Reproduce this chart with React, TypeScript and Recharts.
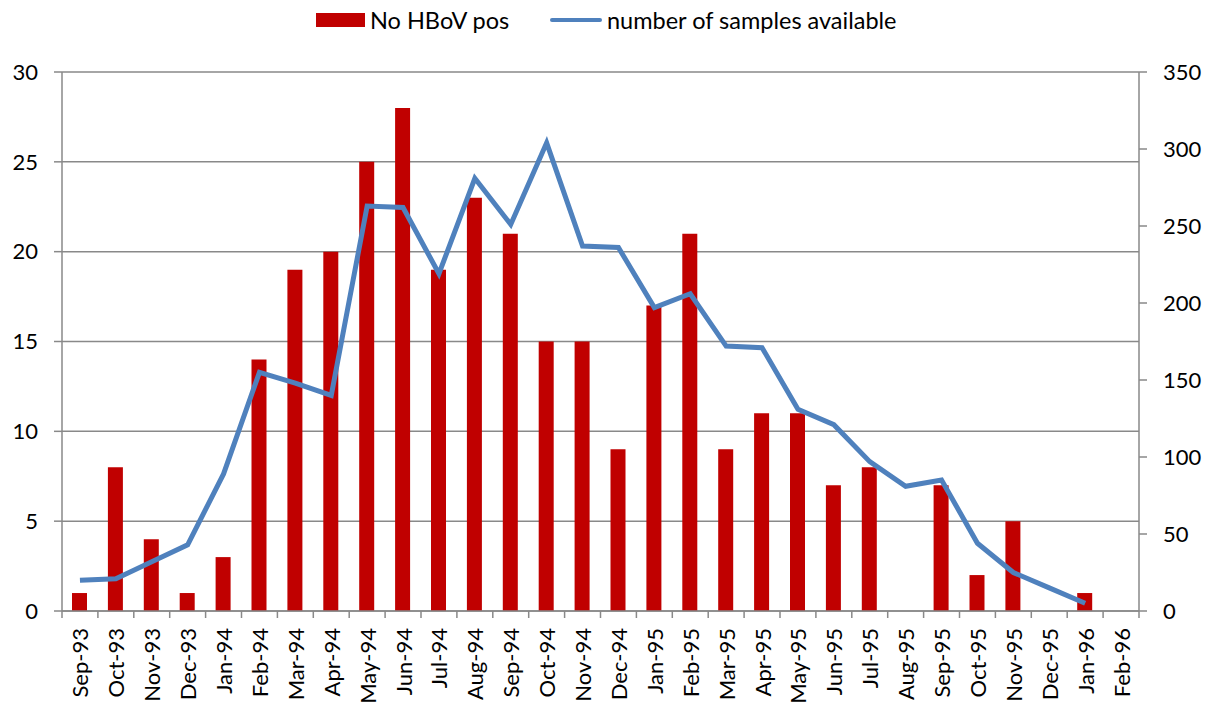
import React from 'react';
import { ComposedChart, Bar, Line, XAxis, YAxis, CartesianGrid } from 'recharts';

const months = [
  'Sep-93', 'Oct-93', 'Nov-93', 'Dec-93', 'Jan-94', 'Feb-94', 'Mar-94', 'Apr-94', 'May-94', 'Jun-94',
  'Jul-94', 'Aug-94', 'Sep-94', 'Oct-94', 'Nov-94', 'Dec-94', 'Jan-95', 'Feb-95', 'Mar-95', 'Apr-95',
  'May-95', 'Jun-95', 'Jul-95', 'Aug-95', 'Sep-95', 'Oct-95', 'Nov-95', 'Dec-95', 'Jan-96', 'Feb-96'
];

// left axis: HBoV positives per month
const hbovPositive = [
  1, 8, 4, 1, 3, 14, 19, 20, 25, 28,
  19, 23, 21, 15, 15, 9, 17, 21, 9, 11,
  11, 7, 8, null, 7, 2, 5, null, 1, null
];

// right axis: samples available per month
const samplesAvailable = [
  20, 21, 32, 43, 89, 155, 148, 140, 263, 262,
  219, 281, 251, 304, 237, 236, 197, 206, 172, 171,
  131, 121, 97, 81, 85, 44, 25, 15, 5, null
];

const leftTicks = [0, 5, 10, 15, 20, 25, 30];
const rightTicks = [0, 50, 100, 150, 200, 250, 300, 350];

const barName = 'No HBoV pos';
const lineName = 'number of samples available';

const RED = '#C00000';
const BLUE = '#4F81BD';
const GRAY = '#898989';
const FONT = 'Lato, "Open Sans", sans-serif';

const W = 1207;
const H = 705;
const LEFT_W = 62;
const RIGHT_W = 68;
const band = (W - LEFT_W - RIGHT_W) / months.length;

const data = months.map((m, i) => ({
  month: m,
  pos: hbovPositive[i],
  samples: samplesAvailable[i],
}));

// category label, rotated, plus tick marks on the category boundaries
const MonthTick = (props: any) => {
  const { x, y, payload, index } = props;
  return (
    <g>
      <line x1={x - band / 2} x2={x - band / 2} y1={y} y2={y + 7} stroke={GRAY} strokeWidth={1.5} />
      {index === months.length - 1 && (
        <line x1={x + band / 2} x2={x + band / 2} y1={y} y2={y + 7} stroke={GRAY} strokeWidth={1.5} />
      )}
      <text
        transform={`translate(${x},${y + 17}) rotate(-90)`}
        textAnchor="end"
        dominantBaseline="central"
        fontSize={22}
        fontFamily={FONT}
        fill="#000"
      >
        {payload.value}
      </text>
    </g>
  );
};

const legendText: React.CSSProperties = {
  position: 'absolute', top: 6, height: 28, lineHeight: '28px', fontSize: 23.5, color: '#000', whiteSpace: 'nowrap'
};

export default function App() {
  return (
    <div style={{ position: 'absolute', left: 0, top: 0, width: W, height: H, background: '#fff', fontFamily: FONT }}>
      {/* legend */}
      <div style={{ position: 'absolute', left: 316, top: 13, width: 49, height: 14, background: RED }} />
      <span style={{ ...legendText, left: 370 }}>{barName}</span>
      <div style={{ position: 'absolute', left: 550, top: 18, width: 52, height: 4, borderRadius: 2, background: BLUE }} />
      <span style={{ ...legendText, left: 607 }}>{lineName}</span>

      <ComposedChart width={W} height={H} data={data} margin={{ top: 72, right: 0, bottom: 0, left: 0 }} barCategoryGap="0%">
        <CartesianGrid yAxisId="left" vertical={false} stroke={GRAY} strokeWidth={1.5} />
        <XAxis
          dataKey="month"
          height={94}
          interval={0}
          tickLine={false}
          tickSize={0}
          tickMargin={0}
          axisLine={{ stroke: GRAY, strokeWidth: 1.5 }}
          tick={<MonthTick />}
        />
        <YAxis
          yAxisId="left"
          width={LEFT_W}
          domain={[0, 30]}
          ticks={leftTicks}
          interval={0}
          tickSize={8}
          tickMargin={16}
          axisLine={{ stroke: GRAY, strokeWidth: 1.5 }}
          tickLine={{ stroke: GRAY, strokeWidth: 1.5 }}
          tick={{ fill: '#000', fontSize: 22, fontFamily: FONT }}
        />
        <YAxis
          yAxisId="right"
          orientation="right"
          width={RIGHT_W}
          domain={[0, 350]}
          ticks={rightTicks}
          interval={0}
          tickSize={8}
          tickMargin={16}
          axisLine={{ stroke: GRAY, strokeWidth: 1.5 }}
          tickLine={{ stroke: GRAY, strokeWidth: 1.5 }}
          tick={{ fill: '#000', fontSize: 22, fontFamily: FONT }}
        />
        <Bar yAxisId="left" dataKey="pos" name={barName} fill={RED} barSize={15} isAnimationActive={false} />
        <Line
          yAxisId="right"
          dataKey="samples"
          name={lineName}
          type="linear"
          stroke={BLUE}
          strokeWidth={5}
          dot={false}
          activeDot={false}
          isAnimationActive={false}
        />
      </ComposedChart>
    </div>
  );
}
